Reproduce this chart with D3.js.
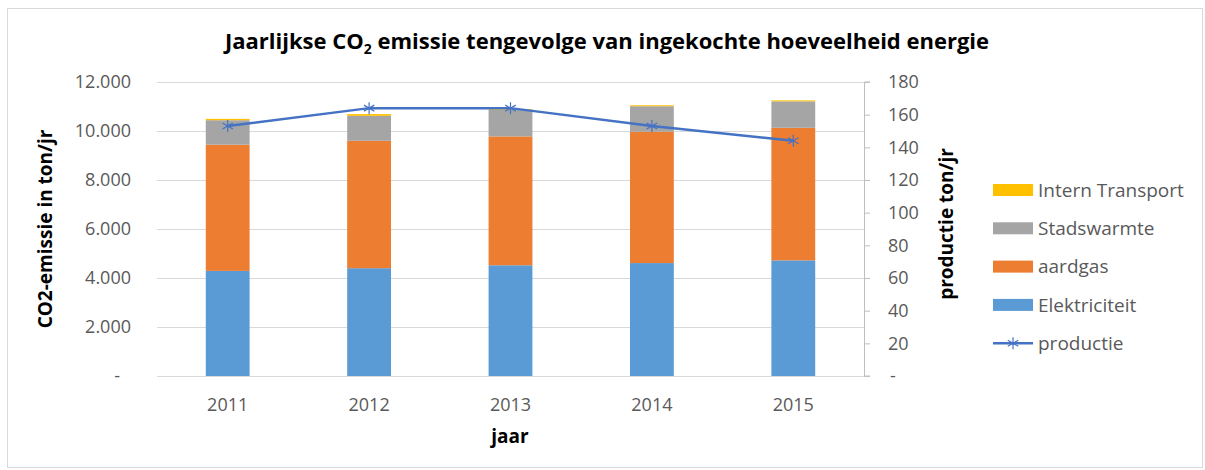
<!DOCTYPE html>
<html>
<head>
<meta charset="utf-8">
<script src="https://cdn.jsdelivr.net/npm/d3@7"></script>
<style>
  body { margin: 0; background: #fff; }
  text { font-family: "Open Sans", sans-serif; }
</style>
</head>
<body>
<div id="chart"></div>
<script>
// data
var years = ["2011", "2012", "2013", "2014", "2015"];
var elektriciteit = [4290, 4400, 4520, 4610, 4720];
var aardgas = [5150, 5200, 5260, 5360, 5410];
var stadswarmte = [1000, 1020, 1080, 1040, 1080];
var internTransport = [55, 70, 30, 40, 40];
var productie = [153, 164, 164, 153, 144];

var leftTicks = [0, 2000, 4000, 6000, 8000, 10000, 12000];
var rightTicks = [0, 20, 40, 60, 80, 100, 120, 140, 160, 180];

var series = [
  {name: "Elektriciteit", values: elektriciteit, color: "#5b9bd5"},
  {name: "aardgas", values: aardgas, color: "#ed7d31"},
  {name: "Stadswarmte", values: stadswarmte, color: "#a5a5a5"},
  {name: "Intern Transport", values: internTransport, color: "#ffc000"}
];

var W = 1205, H = 470;
var plotLeft = 157, plotRight = 864, plotTop = 82, plotBottom = 376;

var svg = d3.select("#chart").append("svg")
    .attr("width", W)
    .attr("height", H);

// chart border
svg.append("rect")
  .attr("x", 7.5).attr("y", 8.5)
  .attr("width", 1195).attr("height", 459)
  .attr("fill", "#fff")
  .attr("stroke", "#d9d9d9");

var nl = d3.formatLocale({decimal: ",", thousands: ".", grouping: [3], currency: ["€", ""]});
var fmt = nl.format(",.0f");

var x = d3.scaleBand()
  .domain(years)
  .range([plotLeft, plotRight])
  .paddingInner(0.69)
  .paddingOuter(0.345);

var y = d3.scaleLinear().domain([0, 12000]).range([plotBottom, plotTop]);
var y2 = d3.scaleLinear().domain([0, 180]).range([plotBottom, plotTop]);

// gridlines
svg.append("g")
  .selectAll("line")
  .data(leftTicks)
  .enter()
  .append("line")
    .attr("x1", plotLeft).attr("x2", plotRight)
    .attr("y1", function(d) { return Math.round(y(d)) + 0.5; })
    .attr("y2", function(d) { return Math.round(y(d)) + 0.5; })
    .attr("stroke", "#d9d9d9");

// left axis (labels only)
var gl = svg.append("g")
  .attr("transform", "translate(" + plotLeft + ",0)")
  .call(d3.axisLeft(y).tickValues(leftTicks).tickSize(0).tickPadding(26)
    .tickFormat(function(d) { return d === 0 ? "-" : fmt(d); }));
gl.select(".domain").remove();
gl.selectAll("text")
  .attr("fill", "#595959")
  .style("font-size", "18px")
  .attr("dx", function(d) { return d === 0 ? -11 : 0; });

// right axis
var gr = svg.append("g")
  .attr("transform", "translate(" + plotRight + ",0)")
  .call(d3.axisRight(y2).tickValues(rightTicks).tickSize(6).tickPadding(18)
    .tickFormat(function(d) { return d === 0 ? "-" : d; }));
gr.select(".domain").attr("stroke", "#bfbfbf").attr("d", "M6," + plotTop + "H0.5V" + plotBottom + "H6");
gr.selectAll(".tick line").attr("stroke", "#bfbfbf");
gr.selectAll("text")
  .attr("fill", "#595959")
  .style("font-size", "18px")
  .attr("dx", function(d) { return d === 0 ? 2 : 0; });

// x axis labels
var gx = svg.append("g")
  .attr("transform", "translate(0," + plotBottom + ")")
  .call(d3.axisBottom(x).tickSize(0).tickPadding(22));
gx.select(".domain").remove();
gx.selectAll("text")
  .attr("fill", "#595959")
  .style("font-size", "18px");

// stacked bars
var rows = years.map(function(yr, i) {
  var r = {year: yr};
  series.forEach(function(s) { r[s.name] = s.values[i]; });
  return r;
});
var stack = d3.stack().keys(series.map(function(s) { return s.name; }));
var stacked = stack(rows);

svg.append("g")
  .selectAll("g")
  .data(stacked)
  .enter()
  .append("g")
    .attr("fill", function(d, i) { return series[i].color; })
  .selectAll("rect")
  .data(function(d) { return d; })
  .enter()
  .append("rect")
    .attr("x", function(d) { return x(d.data.year); })
    .attr("y", function(d) { return y(d[1]); })
    .attr("width", x.bandwidth())
    .attr("height", function(d) { return y(d[0]) - y(d[1]); });

// productie line
var cx = function(d, i) { return x(years[i]) + x.bandwidth() / 2; };
var line = d3.line()
  .x(cx)
  .y(function(d) { return y2(d); });

svg.append("path")
  .datum(productie)
  .attr("d", line)
  .attr("fill", "none")
  .attr("stroke", "#4472c4")
  .attr("stroke-width", 2.5);

function starPath(px, py, r) {
  var dx = r * 0.87, dy = r * 0.5;
  return "M" + px + "," + (py - r) + "V" + (py + r) +
    "M" + (px - dx) + "," + (py - dy) + "L" + (px + dx) + "," + (py + dy) +
    "M" + (px - dx) + "," + (py + dy) + "L" + (px + dx) + "," + (py - dy);
}

svg.append("g")
  .selectAll("path")
  .data(productie)
  .enter()
  .append("path")
    .attr("d", function(d, i) { return starPath(cx(d, i), y2(d), 6); })
    .attr("stroke", "#4472c4")
    .attr("stroke-width", 1.2)
    .attr("fill", "none");

// title
var title = svg.append("text")
  .attr("x", 607)
  .attr("y", 49)
  .attr("text-anchor", "middle")
  .attr("font-weight", "bold")
  .style("font-size", "22px")
  .attr("fill", "#000");
title.append("tspan").text("Jaarlijkse CO");
title.append("tspan").attr("dy", 5).style("font-size", "14px").text("2");
title.append("tspan").attr("dy", -5).text(" emissie tengevolge van ingekochte hoeveelheid energie");

// axis titles
svg.append("text")
  .attr("transform", "translate(52,229) rotate(-90)")
  .attr("text-anchor", "middle")
  .attr("font-weight", "bold")
  .style("font-size", "19px")
  .text("CO2-emissie in ton/jr");

svg.append("text")
  .attr("transform", "translate(953,224) rotate(-90)")
  .attr("text-anchor", "middle")
  .attr("font-weight", "bold")
  .style("font-size", "19px")
  .text("productie ton/jr");

svg.append("text")
  .attr("x", 510)
  .attr("y", 443)
  .attr("text-anchor", "middle")
  .attr("font-weight", "bold")
  .style("font-size", "19px")
  .text("jaar");

// legend
var legendItems = series.slice().reverse().map(function(s) { return {name: s.name, color: s.color, type: "bar"}; });
legendItems.push({name: "productie", color: "#4472c4", type: "line"});

var lg = svg.append("g")
  .selectAll("g")
  .data(legendItems)
  .enter()
  .append("g")
    .attr("transform", function(d, i) { return "translate(993," + (190 + i * 38.3) + ")"; });

lg.filter(function(d) { return d.type === "bar"; })
  .append("rect")
    .attr("x", 0).attr("y", -6)
    .attr("width", 40).attr("height", 12)
    .attr("fill", function(d) { return d.color; });

var ll = lg.filter(function(d) { return d.type === "line"; });
ll.append("line")
  .attr("x1", 0).attr("x2", 40)
  .attr("stroke", "#4472c4").attr("stroke-width", 2.5);
ll.append("path")
  .attr("d", starPath(20, 0, 6))
  .attr("stroke", "#4472c4").attr("stroke-width", 1.2).attr("fill", "none");

lg.append("text")
  .attr("x", 45)
  .attr("dy", "0.35em")
  .attr("fill", "#595959")
  .style("font-size", "19px")
  .text(function(d) { return d.name; });
</script>
</body>
</html>
